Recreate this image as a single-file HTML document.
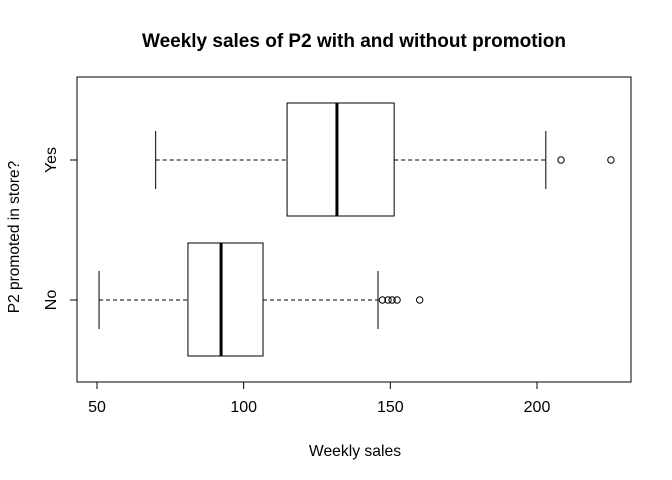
<!DOCTYPE html>
<html><head><meta charset="utf-8"><style>body{margin:0;background:#fff}svg{display:block;font-family:"Liberation Sans",Arial,sans-serif}</style></head>
<body>
<svg id="c" width="672" height="480">
<rect x="77" y="77" width="554" height="305" fill="none" stroke="#000"/>
<text x="354" y="47" text-anchor="middle" font-weight="bold" font-size="19">Weekly sales of P2 with and without promotion</text>
<text x="355" y="456" text-anchor="middle" font-size="15.7">Weekly sales</text>
<text transform="translate(19,237) rotate(-90)" text-anchor="middle" font-size="15.5">P2 promoted in store?</text>
</svg>
<script>
const categories=["No","Yes"];
const whiskerLow=[50.7,70];
const q1=[81,114.8];
const medians=[92.3,131.8];
const q3=[106.6,151.3];
const whiskerHigh=[145.8,203];
const outliers=[[147.3,149.2,150.6,152.3,160],[208.2,225.2]];
const xTicks=[50,100,150,200];
const NS="http://www.w3.org/2000/svg";
const svg=document.getElementById("c");
const xs=v=>97+(v-50)*(537-97)/150;
const ys=i=>300-i*140;
function mk(t,a){const e=document.createElementNS(NS,t);for(const k in a)e.setAttribute(k,a[k]);svg.appendChild(e);return e;}
xTicks.forEach(t=>{
 const l=mk("line",{x1:xs(t),x2:xs(t),y1:382,y2:389,stroke:"#000"});
 
 
 const tx=mk("text",{x:xs(t),y:412,"text-anchor":"middle","font-size":16});tx.textContent=t;
 
 
});
mk("line",{x1:xs(xTicks[0]),x2:xs(xTicks[xTicks.length-1]),y1:382,y2:382,stroke:"#000"});
categories.forEach((c,i)=>{
 const y=ys(i);
 const t=mk("line",{x1:70,x2:77,y1:y,y2:y,stroke:"#000"});
 
 
 const lb=mk("text",{transform:`translate(56,${y}) rotate(-90)`,"text-anchor":"middle","font-size":16});lb.textContent=c;
 
 
 const w1=mk("line",{x1:xs(whiskerLow[i]),x2:xs(q1[i]),y1:y,y2:y,stroke:"#000","stroke-dasharray":"4,3"});
 
 
 const w2=mk("line",{x1:xs(q3[i]),x2:xs(whiskerHigh[i]),y1:y,y2:y,stroke:"#000","stroke-dasharray":"4,3"});
 
 
 [whiskerLow[i],whiskerHigh[i]].forEach(v=>{
  const cap=mk("line",{x1:xs(v),x2:xs(v),y1:y-29,y2:y+29,stroke:"#000"});
  
  
 });
 const b=mk("rect",{x:xs(q1[i]),y:y-57,width:xs(q3[i])-xs(q1[i]),height:113,fill:"none",stroke:"#000"});
 
 
 const m=mk("line",{x1:xs(medians[i]),x2:xs(medians[i]),y1:y-57,y2:y+56,stroke:"#000","stroke-width":3});
 
 
 outliers[i].forEach(v=>{
  const o=mk("circle",{cx:xs(v),cy:y,r:3.2,fill:"none",stroke:"#000"});
  
  
 });
});
</script>
</body></html>
